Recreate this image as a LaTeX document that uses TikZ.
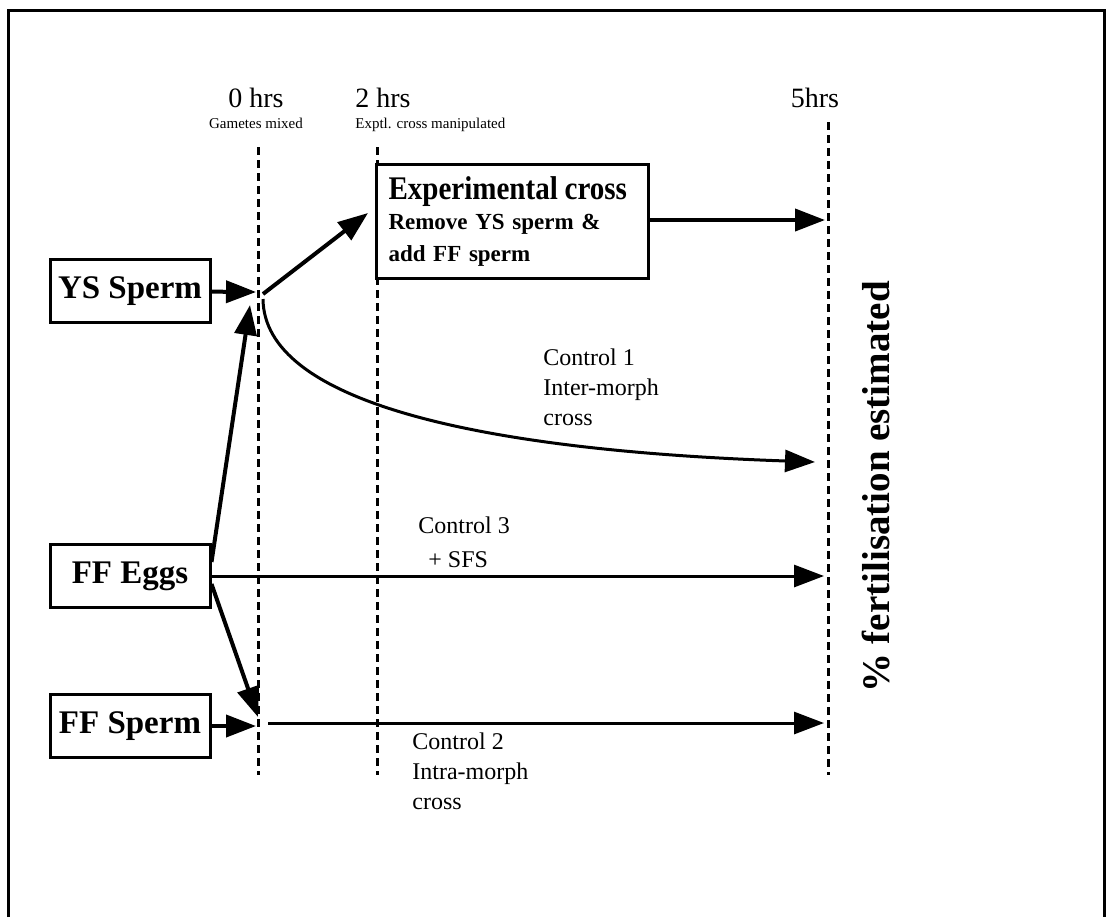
\documentclass[tikz,border=0pt]{standalone}
\usepackage{fontspec}
\setmainfont{Liberation Serif}
\usetikzlibrary{positioning,arrows.meta,calc}
\tikzset{
  every node/.style = {font=\rmfamily, text=black},
  sbox/.style       = {draw, fill=white, line width=1.5pt, minimum width=80pt,
                       minimum height=31.5pt, inner sep=2pt,
                       font=\fontsize{16.5}{19}\selectfont\bfseries},
  expbox/.style     = {draw, fill=white, line width=1.5pt, text width=124pt,
                       align=left, inner xsep=6pt, inner ysep=4pt,
                       minimum height=57pt,
                       font=\fontsize{11.5}{16}\selectfont\bfseries},
  tline/.style      = {line width=1.5pt, dash pattern=on 4pt off 2.5pt},
  flow/.style       = {line width=1.5pt, -{Triangle[length=15pt,width=11pt]}},
  flowbold/.style   = {flow, line width=2pt},
  hrslabel/.style   = {inner sep=0pt, anchor=base,
                       font=\fontsize{14}{16}\selectfont},
  hrsnote/.style    = {inner sep=0pt, anchor=base,
                       font=\fontsize{7.5}{9}\selectfont},
  ctrl/.style       = {inner sep=0pt, anchor=north west, align=left,
                       font=\fontsize{12}{15}\selectfont},
}

\begin{document}
\begin{tikzpicture}[x=0.5pt, y=-0.5pt]
\useasboundingbox (0,0) rectangle (1106,917);

% =========================================================================
% Frame and time lines
% =========================================================================
\draw[line width=1.5pt] (8,917) -- (8,10) -- (1104,10) -- (1104,917);

\draw[tline] (258,147) -- (258,775);
\draw[tline] (377,147) -- (377,775);
\draw[tline] (828,122) -- (828,775);

% --- Time labels ---------------------------------------------------------
\node[hrslabel] (t0) at (256,107) {0 hrs};
\node[hrsnote]  (t0n) at (256,128) {Gametes mixed};
\node[hrslabel, anchor=base west] (t2) at (355,107) {2 hrs};
\node[hrsnote, anchor=base west]  (t2n) at (355,128) {Exptl. cross manipulated};
\node[hrslabel] (t5) at (815,107) {5hrs};

% =========================================================================
% Boxes
% =========================================================================
\node[sbox] (ys)  at (130,291) {YS Sperm};
\node[sbox] (ffe) at (130,576) {FF Eggs};
\node[sbox] (ffs) at (130,726) {FF Sperm};

\node[expbox, anchor=north west] (exp) at (375,163)
  {\scalebox{0.88}[1]{\fontsize{16.5}{14}\selectfont Experimental cross}\\[-1pt]
   Remove YS sperm \&\\ add FF sperm};

% =========================================================================
% Meeting points and arrow ends
% =========================================================================
\coordinate (mixys)  at (256,292);
\coordinate (outys)  at (263,294);
\coordinate (curvys) at (263,299);
\coordinate (eggtip) at (250,305);
\coordinate (ffstip) at (258,717);
\coordinate (mixff)  at (256,726);
\coordinate (c2beg)  at (268,723);
\coordinate (exptip) at (368,213);
\coordinate (expend) at (825,220);
\coordinate (c1end)  at (815,462);
\coordinate (c3end)  at (824,576);
\coordinate (c2end)  at (824,723);

% =========================================================================
% Connectors
% =========================================================================
\draw[flowbold] (ys) -- (mixys);
\draw[flowbold] (outys) -- (exptip);
\draw[flowbold] (exp.east |- expend) -- (expend);
\draw[flow] (curvys) .. controls (264,400) and (470,450) .. (c1end);

\draw[flowbold] ([yshift=7pt]ffe.east) -- (eggtip);
\draw[flowbold] ([yshift=-4pt]ffe.east) -- (ffstip);
\draw[flow] (ffe.east) -- (c3end);

\draw[flowbold] (ffs) -- (mixff);
\draw[flow] (c2beg) -- (c2end);

% =========================================================================
% Control labels
% =========================================================================
\node[ctrl] (c1) at (543,348) {Control 1\\Inter-morph\\cross};
\node[ctrl] (c3) at (418,516) {Control 3\\[2pt]\hspace*{5pt}+ SFS};
\node[ctrl] (c2) at (412,732) {Control 2\\Intra-morph\\cross};

\node[rotate=90, font=\fontsize{19.5}{22}\selectfont\bfseries] (fert)
  at (876,487) {\% fertilisation estimated};

\end{tikzpicture}
\end{document}
